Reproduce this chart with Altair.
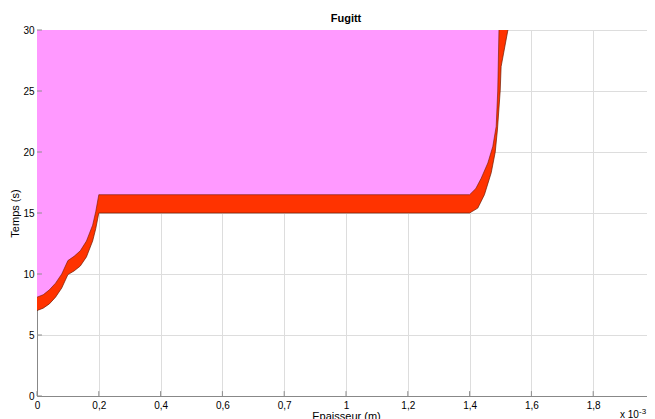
import altair as alt
import pandas as pd

# ---- data (x in units of 1e-3 m, y in s) ----
upper_x = [0, 0.02, 0.04, 0.06, 0.08, 0.10, 0.12, 0.14, 0.16, 0.18, 0.19, 0.20,
           1.40, 1.42, 1.4375, 1.459, 1.475, 1.486, 1.491, 1.495]
upper_y = [8.1, 8.3, 8.7, 9.25, 10.0, 11.1, 11.45, 11.9, 12.7, 14.0, 15.1, 16.5,
           16.5, 17.0, 17.85, 19.1, 20.45, 22.1, 25.0, 30.0]

lower_x = [0, 0.02, 0.04, 0.06, 0.08, 0.10, 0.12, 0.14, 0.16, 0.18, 0.19, 0.20,
           1.40, 1.4265, 1.448, 1.47, 1.483, 1.49, 1.499, 1.502, 1.524]
lower_y = [7.0, 7.2, 7.55, 8.1, 8.85, 9.95, 10.25, 10.65, 11.4, 12.7, 13.7, 15.0,
           15.0, 15.4, 16.5, 18.3, 20.0, 21.8, 25.0, 27.0, 30.0]

x_ticks = [0, 0.2, 0.4, 0.6, 0.8, 1.0, 1.2, 1.4, 1.6, 1.8, 2.0]
x_tick_labels = ["0", "0,2", "0,4", "0,6", "0,7", "1", "1,2", "1,4", "1,6", "1,8", "2"]
y_ticks = [0, 5, 10, 15, 20, 25, 30]

title_text = "Fugitt"
x_title = "Epaisseur (m)"
y_title = "Temps (s)"
exp_text = "x 10"
exp_sup_text = "-3"

PINK = "#ff99ff"
RED = "#ff3300"
EDGE = "#6e1a00"
GRAY = "#8c8c8c"
FONT = "Liberation Sans"

upper_df = pd.DataFrame({"x": upper_x, "y": upper_y})
lower_df = pd.DataFrame({"x": lower_x, "y": lower_y})
xt_df = pd.DataFrame({"x": x_ticks})
yt_df = pd.DataFrame({"y": y_ticks})

label_expr = ("[" + ",".join("'" + s + "'" for s in x_tick_labels) + "][indexof(["
              + ",".join(str(v) for v in x_ticks) + "], datum.value)]")

x_axis = alt.Axis(values=x_ticks, labelExpr=label_expr, title=x_title,
                  ticks=False, tickSize=0, titleFontWeight="normal",
                  labelPadding=4, titlePadding=0, labelFlush=False)
y_axis = alt.Axis(values=y_ticks, title=y_title, ticks=False, tickSize=0,
                  titleFontWeight="normal", labelPadding=3, titlePadding=2)

x_scale = alt.Scale(domain=[0, 2], nice=False, zero=False)
y_scale = alt.Scale(domain=[0, 30], nice=False, zero=False)

X = alt.X("x:Q", scale=x_scale, axis=x_axis)
Y = alt.Y("y:Q", scale=y_scale, axis=y_axis)

red = alt.Chart(lower_df).mark_area(color=RED, clip=True).encode(
    x=X, y=Y, y2=alt.datum(30))
pink = alt.Chart(upper_df).mark_area(color=PINK, clip=True).encode(
    x=X, y=Y, y2=alt.datum(30))
lower_line = alt.Chart(lower_df).mark_line(color=EDGE, strokeWidth=0.7, clip=True).encode(
    x=X, y=Y)
upper_line = alt.Chart(upper_df).mark_line(color=EDGE, strokeWidth=0.6, clip=True).encode(
    x=X, y=Y)

xticks_rule = alt.Chart(xt_df).mark_rule(color=GRAY, strokeWidth=1).encode(
    x=X, y=alt.datum(0), y2=alt.datum(0.4))
yticks_rule = alt.Chart(yt_df).mark_rule(color=GRAY, strokeWidth=1).encode(
    y=Y, x=alt.datum(0), x2=alt.datum(0.016))

exp_base = alt.Chart(pd.DataFrame({"t": [exp_text]})).mark_text(
    font=FONT, fontSize=10, align="left", baseline="alphabetic", color="black"
).encode(text="t:N", x=alt.value(583), y=alt.value(388))
exp_sup = alt.Chart(pd.DataFrame({"t": [exp_sup_text]})).mark_text(
    font=FONT, fontSize=8, align="left", baseline="alphabetic", color="black"
).encode(text="t:N", x=alt.value(602), y=alt.value(384))

chart = alt.layer(red, pink, lower_line, upper_line, xticks_rule, yticks_rule,
                  exp_base, exp_sup).properties(
    width=618, height=366,
    title=alt.TitleParams(title_text, font=FONT, fontSize=11, fontWeight="bold",
                          anchor="middle", offset=1, color="black"),
    autosize=alt.AutoSizeParams(type="none"),
    padding={"left": 29, "top": 22, "right": -8, "bottom": 24},
).configure_view(stroke=GRAY, strokeWidth=1).configure_axis(
    domainColor=GRAY, domainWidth=1, grid=True, gridColor="#666666",
    gridDash=[1, 2], gridWidth=1, ticks=False, tickSize=0, zindex=1,
    labelFont=FONT, labelFontSize=10, labelColor="black",
    titleFont=FONT, titleFontSize=10, titleFontWeight="normal", titleColor="black",
).configure(background="white")

chart.save("out.html", embed_options={"renderer": "svg", "actions": False})
